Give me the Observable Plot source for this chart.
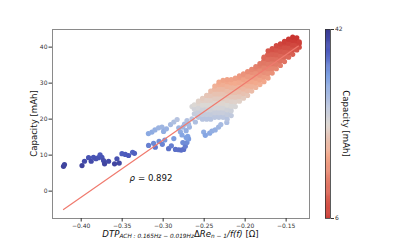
<!DOCTYPE html>
<html><head><meta charset="utf-8">
<script src="https://cdn.jsdelivr.net/npm/d3@7"></script>
<script src="https://cdn.jsdelivr.net/npm/@observablehq/plot@0.6"></script>
<style>
body{margin:0;background:#fff;font-family:"DejaVu Sans",sans-serif;}
#wrap{position:relative;width:415px;height:249px;}
#wrap svg{position:absolute;left:0;top:0;}
</style></head>
<body><div id="wrap"></div>
<script>
// ---- data ----
const xTicks = [-0.40, -0.35, -0.30, -0.25, -0.20, -0.15];
const yTicks = [0, 10, 20, 30, 40];
const cbTicks = [6, 42];

// sparse points: left cluster + middle cluster
const sparseX = [-0.4216,-0.4204,-0.399,-0.396,-0.391,-0.3878,-0.385,-0.382,-0.379,-0.377,-0.3747,-0.3727,-0.3715,-0.3666,-0.3593,-0.3564,-0.3536,-0.3503,-0.3462,-0.3422,-0.3373,-0.335,
 -0.318,-0.3137,-0.310,-0.3056,-0.3015,-0.2995,-0.296,-0.291,-0.287,-0.283,-0.281,-0.279,-0.277,-0.276,-0.274,-0.272,-0.270,-0.268,-0.2709,-0.2648,-0.2587,-0.2607,-0.269,-0.2648,
 -0.3178,-0.3117,-0.3096,-0.305,-0.301,-0.298,-0.2934,-0.290,-0.287,-0.285,-0.281,-0.278,-0.275,-0.273,-0.271,-0.269,-0.272,-0.276,
 -0.2506,-0.2486,-0.2433,-0.2405,-0.2365,-0.2324,-0.2297,-0.2224];
const sparseY = [6.9,7.4,7.1,8.3,9.3,8.3,9.4,9.0,9.3,10.1,9.4,8.5,7.6,8.3,7.6,9.0,7.8,10.4,10.2,9.9,10.8,10.5,
 16.0,16.4,17.0,17.6,17.8,16.6,17.3,18.5,19.2,19.9,17.6,16.5,15.6,17.8,18.6,16.8,15.2,17.8,19.6,20.1,21.0,19.2,18.6,23.5,
 12.7,13.3,12.2,13.8,13.0,14.2,11.8,12.6,14.6,11.6,11.5,11.4,11.6,12.5,13.5,14.5,14.9,13.5,
 16.4,15.5,16.1,16.7,17.0,17.8,18.5,19.1];

// dense cloud, by column of x
const cloudX = [-0.262,-0.257,-0.252,-0.247,-0.242,-0.237,-0.232,-0.227,-0.222,-0.217,-0.212,-0.207,-0.202,-0.197,-0.192,-0.187,-0.182,-0.177,-0.172,-0.167,-0.162,-0.157,-0.152,-0.147,-0.142,-0.137,-0.134];
const cloudY = [
 [21.5,22.8,24.0],
 [20.5,21.8,23.1,24.4,25.0],
 [20.0,21.3,22.6,23.9,25.2,25.8],
 [20.0,21.3,22.6,23.9,25.2,26.6],
 [20.0,21.3,22.6,23.9,25.2,26.5,27.8],
 [20.5,21.8,23.1,24.4,25.7,27.0,28.3,29.2],
 [20.5,21.8,23.1,24.4,25.7,27.0,28.3,29.6,30.3],
 [20.5,21.8,23.1,24.4,25.7,27.0,28.3,29.6,30.8],
 [20.0,21.3,22.6,23.9,25.2,26.5,27.8,29.1,30.4,31.0],
 [21.0,22.3,23.6,24.9,26.2,27.5,28.8,30.1,31.0],
 [23.5,24.8,26.1,27.4,28.7,30.0,31.4],
 [25.0,26.3,27.6,28.9,30.2,31.5,32.0],
 [25.8,27.1,28.4,29.7,31.0,32.3,32.6],
 [26.6,27.9,29.2,30.5,31.8,33.2],
 [27.8,29.1,30.4,31.7,33.0,33.8],
 [28.8,30.1,31.4,32.7,34.0,34.6],
 [29.6,30.9,32.2,33.5,34.8,35.4],
 [30.4,31.7,33.0,34.3,35.6,36.9,37.2],
 [31.4,32.7,34.0,35.3,36.6,37.9,39.0],
 [32.8,34.1,35.4,36.7,38.0,39.3,39.6],
 [34.0,35.3,36.6,37.9,39.2,40.4],
 [34.9,36.2,37.5,38.8,40.1,40.9],
 [36.0,37.3,38.6,39.9,41.2,41.6],
 [37.2,38.5,39.8,41.1,42.2],
 [38.0,39.3,40.6,41.9,42.8],
 [39.2,40.5,41.8,42.6],
 [40.0,41.0,41.5]
];

// regression line
const fitX = [-0.4216, -0.135];
const fitY = [-5.1, 40.3];
const rhoLabel = {x: -0.341, y: 3.7, sym: "ρ", val: "= 0.892"};

// colour map (capacity -> colour)
const capStops = [6, 10, 15, 20, 24, 30, 42];
const capColors = ["#3a3a90", "#4b58bb", "#7fa2e3", "#b7c4e0", "#dcd8d4", "#f3ab8e", "#cc3b35"];

// ---- build ----
const points = sparseX.map((x, i) => ({x, y: sparseY[i]}));
cloudX.forEach((x, i) => cloudY[i].forEach(y => points.push({x, y})));
const cloudCols = cloudX.map((x, i) => ({x, lo: d3.min(cloudY[i]), hi: d3.max(cloudY[i])}));
const fitRows = fitX.map((x, i) => ({x, y: fitY[i]}));
const colorOpt = {type: "linear", domain: capStops, range: capColors, interpolate: "rgb"};
const FONT = "DejaVu Sans";

const main = Plot.plot({
  width: 415, height: 249,
  marginLeft: 52, marginRight: 106, marginTop: 29, marginBottom: 31,
  style: {fontFamily: FONT, fontSize: "6px", color: "#333", background: "transparent"},
  x: {domain: [-0.435, -0.1215]},
  y: {domain: [-7.6, 44.9]},
  color: colorOpt,
  marks: [
    Plot.areaY(cloudCols, {x: "x", y1: "lo", y2: "hi", fill: "url(#capgrad)"}),
    Plot.dot(points, {x: "x", y: "y", fill: d => d.y, r: 2.6, stroke: "none"}),
    Plot.line(fitRows, {x: "x", y: "y", stroke: "#f07a6e", strokeWidth: 1.2}),
    Plot.text([rhoLabel], {x: "x", y: "y", text: "sym", textAnchor: "start", fontSize: 8.6, fontStyle: "italic", fill: "#111"}),
    Plot.text([rhoLabel], {x: "x", y: "y", text: "val", textAnchor: "start", dx: 8.4, fontSize: 8.6, fill: "#111"}),
    Plot.frame({stroke: "#8a8a8a", strokeWidth: 1}),
    Plot.axisX({ticks: xTicks, tickFormat: d3.format(".2f"), tickSize: 3.5, tickPadding: 1.5, label: null}),
    Plot.axisY({ticks: yTicks, tickSize: 3.5, tickPadding: 1.5, label: null})
  ]
});

const barSlices = d3.range(6, 42, 0.2);
const cbar = Plot.plot({
  width: 415, height: 249,
  marginLeft: 325, marginRight: 85, marginTop: 29, marginBottom: 31,
  style: {fontFamily: FONT, fontSize: "6px", color: "#333", background: "transparent"},
  x: {domain: [0, 1], axis: null},
  y: {domain: [6, 42]},
  color: colorOpt,
  marks: [
    Plot.rect(barSlices, {x1: 0, x2: 1, y1: d => d, y2: d => Math.min(42, d + 0.3), fill: d => 48 - d - 0.1}),
    Plot.frame({stroke: "#333", strokeWidth: 0.8}),
    Plot.axisY({anchor: "right", ticks: cbTicks, tickSize: 3, tickPadding: 1.5, label: null})
  ]
});

const wrap = document.getElementById("wrap");
wrap.appendChild(main);
wrap.appendChild(cbar);

// gradient for the cloud underlay, following the colour scale in y
const ys = main.scale("y");
const svg = d3.select(main);
const defs = svg.insert("defs", ":first-child");
const grad = defs.append("linearGradient").attr("id", "capgrad")
  .attr("gradientUnits", "userSpaceOnUse")
  .attr("x1", 0).attr("x2", 0)
  .attr("y1", ys.apply(6)).attr("y2", ys.apply(42));
capStops.forEach((s, i) => grad.append("stop")
  .attr("offset", (s - 6) / 36).attr("stop-color", capColors[i]));

// axis labels
const xl = svg.append("text").attr("x", 180.5).attr("y", 236.5)
  .attr("text-anchor", "middle").attr("font-family", FONT).attr("font-size", 8.6).attr("fill", "#111");
xl.append("tspan").attr("font-style", "italic").text("DTP");
xl.append("tspan").attr("font-style", "italic").attr("font-size", 5.8).attr("dy", 1.8).text("ACH : 0.165Hz − 0.019Hz");
xl.append("tspan").attr("dy", -1.8).text("Δ");
xl.append("tspan").attr("font-style", "italic").text("Re");
xl.append("tspan").attr("font-style", "italic").attr("font-size", 5.8).attr("dy", 1.8).text("n − 1");
xl.append("tspan").attr("font-style", "italic").attr("dy", -1.8).text("/f(f)");
xl.append("tspan").text(" [Ω]");

svg.append("text").attr("transform", "translate(36.5,123.5) rotate(-90)")
  .attr("text-anchor", "middle").attr("font-family", FONT).attr("font-size", 8.6).attr("fill", "#111")
  .text("Capacity [mAh]");

d3.select(cbar).append("text").attr("transform", "translate(342.5,123.5) rotate(90)")
  .attr("text-anchor", "middle").attr("font-family", FONT).attr("font-size", 8.6).attr("fill", "#111")
  .text("Capacity [mAh]");
</script></body></html>
